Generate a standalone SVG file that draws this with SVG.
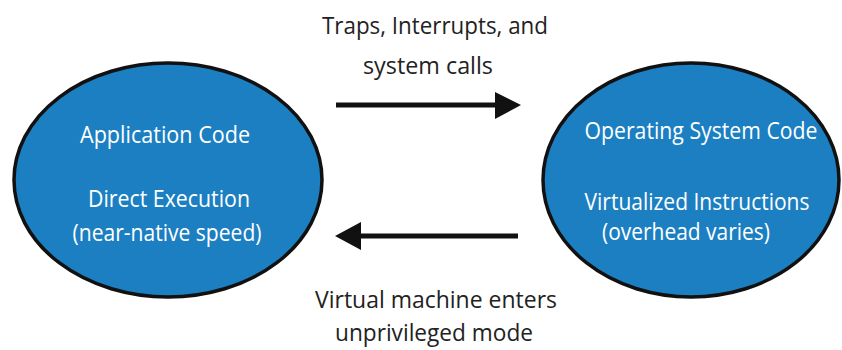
<svg xmlns="http://www.w3.org/2000/svg" width="842" height="350" viewBox="0 0 842 350">
  <style>
    .node { fill: #1b7fc2; stroke: #111; stroke-width: 3.5; }
    .inner { font-family: "Open Sans", "Liberation Sans", sans-serif; font-size: 23px; fill: #fff; text-anchor: middle; }
    .label { font-family: "Open Sans", "Liberation Sans", sans-serif; font-size: 24px; fill: #222; text-anchor: middle; }
    .conn { stroke: #111; stroke-width: 5; fill: none; }
    .head { fill: #111; }
  </style>
  <rect width="842" height="350" fill="#fff"/>

  <g id="app-code">
    <ellipse class="node" cx="168" cy="180" rx="154" ry="117"/>
    <text class="inner" x="165" y="143" textLength="170" lengthAdjust="spacingAndGlyphs">Application Code</text>
    <text class="inner" x="169" y="207" textLength="162" lengthAdjust="spacingAndGlyphs">Direct Execution</text>
    <text class="inner" x="167" y="241" textLength="189" lengthAdjust="spacingAndGlyphs">(near-native speed)</text>
  </g>

  <g id="os-code">
    <ellipse class="node" cx="691" cy="180" rx="148" ry="117"/>
    <text class="inner" x="701" y="139" textLength="233" lengthAdjust="spacingAndGlyphs">Operating System Code</text>
    <text class="inner" x="697" y="210" textLength="225" lengthAdjust="spacingAndGlyphs">Virtualized Instructions</text>
    <text class="inner" x="686" y="240" textLength="168" lengthAdjust="spacingAndGlyphs">(overhead varies)</text>
  </g>

  <g id="connectors">
    <line class="conn" x1="336" y1="105" x2="498" y2="105"/>
    <polygon class="head" points="495,92 521,105 495,119"/>
    <line class="conn" x1="518" y1="236" x2="358" y2="236"/>
    <polygon class="head" points="361,222 335,236 361,250"/>
  </g>

  <g id="labels">
    <text class="label" x="435" y="34" textLength="226" lengthAdjust="spacingAndGlyphs">Traps, Interrupts, and</text>
    <text class="label" x="428" y="74" textLength="130" lengthAdjust="spacingAndGlyphs">system calls</text>
    <text class="label" x="436" y="308" textLength="242" lengthAdjust="spacingAndGlyphs">Virtual machine enters</text>
    <text class="label" x="434" y="341" textLength="198" lengthAdjust="spacingAndGlyphs">unprivileged mode</text>
  </g>
</svg>
